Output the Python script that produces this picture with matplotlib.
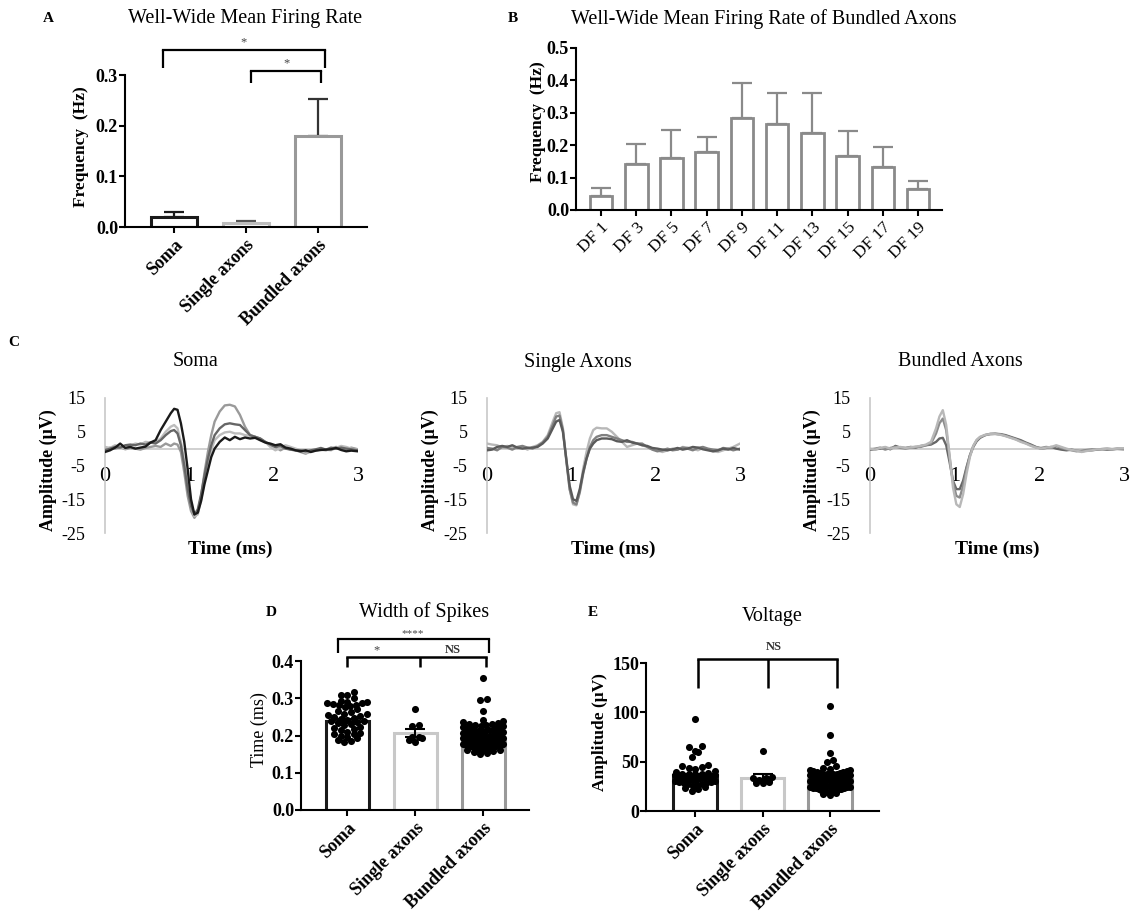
import matplotlib
matplotlib.use('Agg')
import matplotlib.pyplot as plt
import numpy as np

plt.rcParams['font.family'] = ['Liberation Serif', 'DejaVu Serif']

# ---------------- data ----------------
a_groups = ['Soma', 'Single axons', 'Bundled axons']
a_means = [0.020, 0.008, 0.180]
a_errs = [0.010, 0.004, 0.073]

b_days = ['DF 1', 'DF 3', 'DF 5', 'DF 7', 'DF 9', 'DF 11', 'DF 13', 'DF 15', 'DF 17', 'DF 19']
b_means = [0.043, 0.141, 0.160, 0.178, 0.284, 0.265, 0.237, 0.167, 0.134, 0.065]
b_errs = [0.024, 0.063, 0.087, 0.048, 0.108, 0.096, 0.124, 0.078, 0.060, 0.024]

t_ms = [0.0, 0.06, 0.12, 0.18, 0.24, 0.3, 0.36, 0.42, 0.48, 0.54, 0.6, 0.66, 0.72,
        0.78, 0.82, 0.86, 0.9, 0.94, 0.98, 1.02, 1.06, 1.1, 1.14, 1.18, 1.22, 1.26, 1.3,
        1.36, 1.42, 1.48, 1.54, 1.6, 1.66, 1.72, 1.78, 1.84, 1.9, 1.96,
        2.02, 2.08, 2.14, 2.2, 2.26, 2.32, 2.38, 2.44, 2.5, 2.56, 2.62, 2.68, 2.74, 2.8, 2.86, 2.92, 3.0]

soma_tr1 = [-1.0, -0.5, 0.3, 1.5, 0.2, 0.5, 0.0, 0.3, 0.6, 1.8, 2.5, 5.5, 8.0,
            10.5, 11.8, 11.5, 7.5, 2.0, -6.0, -15.0, -19.5, -19.0, -15.5, -10.5, -6.5, -2.5, 0.0,
            2.0, 3.3, 2.5, 3.5, 2.8, 3.3, 3.0, 3.2, 2.5, 1.8, 1.5,
            1.0, 1.3, 0.3, 0.0, -0.5, -0.8, -0.5, -1.0, -0.6, -0.4, -0.3, -0.2, 0.2, -0.4, -0.8, -0.6, -0.8]
soma_tr2 = [-0.5, 0.0, 0.5, 0.3, 1.0, 1.2, 1.0, 1.5, 1.2, 1.8, 1.5, 2.5, 4.0,
            5.2, 5.5, 4.5, 1.0, -5.0, -12.0, -17.0, -19.5, -18.0, -13.5, -8.0, -3.0, 1.0, 4.0,
            6.0, 7.2, 7.5, 7.2, 7.0, 5.5, 4.0, 3.5, 3.0, 2.0, 1.2,
            0.5, 0.8, 0.0, -0.3, -0.5, -0.5, -0.8, -0.5, -0.2, 0.2, -0.3, 0.3, 0.0, 0.3, 0.0, -0.2, -0.5]
soma_tr3 = [-0.3, 0.3, 0.0, 0.5, -0.2, 0.2, 0.0, -0.3, 0.2, 0.5, 0.8, 0.5, 1.5,
            0.8, 1.5, 1.2, -1.0, -7.0, -14.0, -18.5, -20.5, -19.0, -14.0, -7.0, -1.0, 4.0, 8.0,
            11.0, 12.8, 13.0, 12.5, 10.0, 6.5, 4.0, 3.5, 3.0, 2.0, 1.0,
            0.5, -0.5, 0.3, -0.3, -0.5, -1.0, -1.5, -0.8, -0.5, -0.3, -0.5, 0.0, 0.5, 0.2, -0.3, 0.3, -0.2]
soma_tr4 = [0.5, 0.2, 1.0, 0.5, 0.0, 0.8, 1.5, 1.2, 2.0, 1.8, 2.0, 3.0, 5.0,
            6.5, 7.0, 6.0, 2.0, -4.0, -11.0, -17.0, -20.0, -19.5, -15.0, -9.5, -4.5, -0.5, 2.5,
            4.0, 4.8, 5.0, 4.5, 4.5, 4.0, 3.8, 3.5, 2.5, 2.0, 0.5,
            -0.5, 0.2, 1.0, 0.5, 0.0, -0.5, -1.2, -1.0, -0.5, 0.0, -0.3, -0.5, 0.2, 0.8, 0.5, 0.0, -0.3]

single_tr1 = [-0.5, -0.3, 0.5, 0.8, 0.5, 1.0, 0.3, 0.0, 0.2, 0.3, 0.5, 1.5, 3.0,
              6.0, 8.0, 8.5, 5.0, -3.0, -11.0, -15.0, -15.5, -12.0, -7.0, -3.0, 0.0, 1.5, 2.5,
              3.0, 3.0, 2.8, 2.2, 2.0, 2.5, 1.8, 1.5, 1.0, 0.8, 0.2,
              0.0, -0.3, -0.5, -0.2, 0.2, -0.3, 0.0, 0.5, 0.3, -0.2, -0.5, -0.8, -0.5, 0.0, -0.3, 0.2, -0.3]
single_tr2 = [0.2, 0.0, -0.5, 0.5, 0.3, -0.3, 0.5, 0.8, 0.3, 0.0, 0.8, 1.8, 3.5,
              7.0, 9.5, 9.8, 5.5, -3.5, -12.0, -16.0, -16.5, -13.0, -7.5, -3.0, 0.5, 2.5, 3.5,
              4.0, 4.0, 3.5, 3.0, 2.5, 2.0, 2.0, 1.5, 1.5, 0.5, -0.3,
              -0.8, -0.5, 0.0, -0.5, -0.3, 0.3, 0.0, -0.5, 0.2, 0.5, 0.0, -0.3, -0.5, 0.2, 0.0, -0.5, 0.0]
single_tr3 = [1.5, 1.2, 1.0, 0.3, 0.8, 0.5, 0.0, 0.5, -0.3, 0.5, 1.0, 2.0, 4.0,
              8.0, 10.5, 10.8, 6.0, -3.0, -12.0, -16.5, -16.8, -12.5, -6.0, -1.0, 3.0, 5.5, 6.2,
              6.0, 6.0, 5.0, 3.5, 2.0, 0.5, 1.0, 1.5, 1.0, 0.5, 0.0,
              -0.5, -1.0, -0.5, 0.0, -0.3, 0.5, 0.3, 0.0, -0.5, 0.2, -0.3, -0.8, -1.0, -0.5, 0.0, 0.5, 1.5]

bundled_tr1 = [-0.3, -0.2, 0.0, 0.3, -0.2, 0.8, 0.3, 0.2, 0.5, 0.3, 0.8, 1.0, 1.2,
               2.0, 3.0, 3.2, 1.0, -4.0, -9.5, -12.0, -12.0, -9.5, -5.5, -2.0, 0.5, 2.2, 3.2,
               4.0, 4.3, 4.4, 4.3, 4.0, 3.5, 3.0, 2.5, 1.8, 1.2, 0.5,
               0.0, 0.2, 0.5, 0.0, -0.3, -0.5, -0.3, -0.6, -0.8, -0.6, -0.5, -0.3, -0.2, -0.3, -0.2, -0.1, -0.2]
bundled_tr2 = [-0.2, 0.0, 0.3, -0.3, 0.2, 0.5, 0.2, 0.0, 0.3, 0.5, 0.5, 1.0, 1.5,
               4.5, 7.5, 8.9, 5.5, -2.5, -10.0, -14.0, -14.5, -11.0, -6.0, -2.0, 0.8, 2.5, 3.4,
               4.0, 4.4, 4.4, 4.2, 3.8, 3.3, 2.8, 2.2, 1.6, 1.0, 0.4,
               0.2, 0.5, 0.3, 0.8, 0.2, -0.2, -0.5, -0.8, -0.6, -0.4, -0.2, -0.3, -0.1, 0.0, -0.2, 0.0, 0.0]
bundled_tr3 = [0.0, -0.3, 0.2, 0.5, 0.0, 0.3, 0.5, 0.2, 0.4, 0.6, 0.8, 1.2, 2.0,
               6.0, 9.5, 11.4, 7.0, -2.0, -11.5, -16.5, -17.3, -13.5, -7.5, -2.5, 0.8, 2.6, 3.5,
               4.1, 4.3, 4.3, 4.1, 3.7, 3.2, 2.7, 2.0, 1.5, 0.8, 0.3,
               0.0, 0.3, 0.5, 1.0, 0.5, 0.0, -0.4, -0.6, -1.0, -0.7, -0.5, -0.2, -0.2, 0.0, -0.1, 0.0, 0.1]

d_means = [0.240, 0.207, 0.190]
d_sems = [0.005, 0.011, 0.004]
d_soma = [0.316, 0.309, 0.308, 0.300, 0.292, 0.290, 0.289, 0.287, 0.286, 0.284, 0.283, 0.281,
          0.279, 0.276, 0.270, 0.266, 0.262, 0.259, 0.257, 0.255, 0.252, 0.249, 0.246, 0.244,
          0.242, 0.240, 0.238, 0.236, 0.233, 0.230, 0.227, 0.224, 0.221, 0.218, 0.214, 0.210,
          0.207, 0.205, 0.203, 0.200, 0.197, 0.193, 0.189, 0.185, 0.182]
d_single = [0.272, 0.228, 0.226, 0.197, 0.195, 0.192, 0.188, 0.183]
d_bundled = [0.355, 0.297, 0.296, 0.266, 0.242, 0.240, 0.236, 0.233, 0.232, 0.230, 0.229, 0.228,
             0.226, 0.225, 0.223, 0.221, 0.220, 0.219, 0.218, 0.216, 0.215, 0.214, 0.212, 0.211,
             0.210, 0.209, 0.208, 0.207, 0.206, 0.205, 0.205, 0.204, 0.203, 0.202, 0.201, 0.200,
             0.200, 0.199, 0.198, 0.197, 0.196, 0.195, 0.195, 0.194, 0.193, 0.192, 0.191, 0.190,
             0.190, 0.189, 0.188, 0.187, 0.186, 0.185, 0.185, 0.184, 0.183, 0.182, 0.181, 0.180,
             0.180, 0.179, 0.178, 0.177, 0.176, 0.175, 0.175, 0.174, 0.173, 0.172, 0.171, 0.170,
             0.169, 0.168, 0.167, 0.166, 0.165, 0.164, 0.163, 0.162, 0.161, 0.160, 0.158, 0.156,
             0.153, 0.150]

e_means = [36.0, 33.0, 32.0]
e_sems = [2.0, 4.0, 1.2]
e_soma = [93, 66, 65, 61, 60, 55, 47, 46, 45, 44, 43, 41, 40, 39, 38, 38, 37, 37, 36, 36, 35, 35,
          34, 34, 34, 33, 33, 32, 32, 31, 31, 30, 30, 29, 29, 28, 28, 27, 27, 26, 25, 24, 23, 22, 20]
e_single = [61, 34, 33, 33, 31, 29, 28, 28]
e_bundled = [106, 77, 59, 52, 50, 46, 44, 43, 42, 42, 41, 41, 40, 40, 39, 39, 38, 38, 37, 37, 37,
             36, 36, 36, 35, 35, 35, 34, 34, 34, 33, 33, 33, 32, 32, 32, 31, 31, 31, 30, 30, 30,
             29, 29, 29, 28, 28, 28, 27, 27, 27, 26, 26, 26, 25, 25, 25, 24, 24, 24, 23, 23, 23,
             22, 22, 22, 21, 21, 20, 20, 19, 19, 18, 17, 16]

# ---------------- layout helpers ----------------
W, H = 1132, 916
fig = plt.figure(figsize=(W / 100, H / 100), dpi=100)


def add_ax(l, t, r, b):
    return fig.add_axes([l / W, 1 - b / H, (r - l) / W, (b - t) / H])


def ftext(x, y, s, **kw):
    fig.text(x / W, 1 - y / H, s, **kw)


def style_bar_axes(ax):
    for s in ['top', 'right']:
        ax.spines[s].set_visible(False)
    for s in ['left', 'bottom']:
        ax.spines[s].set_linewidth(1.5)
    ax.tick_params(axis='both', width=1.5, length=4, direction='out')
    ax.tick_params(axis='y', pad=1)
    ax.tick_params(axis='x', pad=3)


def bracket(ax, xs, y_top, y_low, lw=1.6):
    for x in xs:
        ax.plot([x, x], [y_top, y_low], color='black', lw=lw, clip_on=False, solid_capstyle='butt')
    ax.plot([xs[0], xs[-1]], [y_top, y_top], color='black', lw=lw, clip_on=False, solid_capstyle='projecting')


def swarm_offsets(values, ypp, xpp, bin_px=6.0, dot_px=6.5, max_half_px=20.0):
    vals = np.asarray(values, dtype=float)
    keys = np.floor(vals / (bin_px * ypp)).astype(int)
    offs = np.zeros(len(vals))
    for k in np.unique(keys):
        idx = np.where(keys == k)[0]
        idx = idx[np.argsort(vals[idx])]
        n = len(idx)
        sp = dot_px if n <= 1 else min(dot_px, 2 * max_half_px / (n - 1))
        slots = []
        if n % 2 == 1:
            slots.append(0.0)
            j = 1
            while len(slots) < n:
                slots.append(-j)
                if len(slots) < n:
                    slots.append(j)
                j += 1
        else:
            j = 0.5
            while len(slots) < n:
                slots.append(-j)
                slots.append(j)
                j += 1
        for i, s in zip(idx, slots[:n]):
            offs[i] = s * sp * xpp
    return offs


# ---------------- Panel A ----------------
axA = add_ax(125, 75, 367, 227)
a_edge = ['#1a1a1a', '#bdbdbd', '#999999']
a_ecol = ['#1a1a1a', '#555555', '#333333']
for i in range(3):
    axA.errorbar(i, a_means[i], yerr=[[0], [a_errs[i]]], fmt='none', ecolor=a_ecol[i],
                 elinewidth=1.6, capsize=7, capthick=1.6, zorder=1)
    axA.bar(i, a_means[i], width=0.64, facecolor='white', edgecolor=a_edge[i], linewidth=2.2, zorder=2)
axA.set_xlim(-0.68, 2.68)
axA.set_ylim(0, 0.3)
style_bar_axes(axA)
axA.set_yticks([0.0, 0.1, 0.2, 0.3])
axA.set_yticklabels(['0.0', '0.1', '0.2', '0.3'], fontweight='bold', fontsize=13)
axA.set_xticks(range(3))
axA.set_xticklabels(a_groups, rotation=45, ha='right', rotation_mode='anchor', fontweight='bold', fontsize=13)
bracket(axA, [-0.15, 2.10], 0.349, 0.314)
bracket(axA, [1.07, 2.04], 0.308, 0.284)
axA.text(0.97, 0.352, '*', ha='center', va='bottom', fontsize=9, color='#444444')
axA.text(1.56, 0.311, '*', ha='center', va='bottom', fontsize=9, color='#444444')
ftext(48, 19, 'A', fontweight='bold', fontsize=11, ha='center', va='center')
ftext(245, 18, 'Well-Wide Mean Firing Rate', fontsize=14.5, ha='center', va='center')
ftext(81, 147, 'Frequency  (Hz)', rotation=90, fontweight='bold', fontsize=12.5, ha='center', va='center')

# ---------------- Panel B ----------------
axB = add_ax(576, 48, 942, 210)
for i in range(len(b_days)):
    axB.errorbar(i, b_means[i], yerr=[[0], [b_errs[i]]], fmt='none', ecolor='#8a8a8a',
                 elinewidth=1.6, capsize=7, capthick=1.6, zorder=1)
    axB.bar(i, b_means[i], width=0.64, facecolor='white', edgecolor='#8a8a8a', linewidth=2.0, zorder=2)
axB.set_xlim(-0.71, 9.68)
axB.set_ylim(0, 0.5)
style_bar_axes(axB)
axB.set_yticks([0.0, 0.1, 0.2, 0.3, 0.4, 0.5])
axB.set_yticklabels(['0.0', '0.1', '0.2', '0.3', '0.4', '0.5'], fontweight='bold', fontsize=13)
axB.set_xticks(range(len(b_days)))
axB.set_xticklabels(b_days, rotation=45, ha='right', rotation_mode='anchor', fontsize=12.5)
ftext(513, 18, 'B', fontweight='bold', fontsize=11, ha='center', va='center')
ftext(764, 19, 'Well-Wide Mean Firing Rate of Bundled Axons', fontsize=14.5, ha='center', va='center')
ftext(538, 122, 'Frequency  (Hz)', rotation=90, fontweight='bold', fontsize=12.5, ha='center', va='center')

# ---------------- Panel C ----------------
def wave_panel(l, r, traces, colors, title, title_x, ylab_x, xlab_x):
    ax = add_ax(l, 398, r, 533)
    for y, c in zip(traces, colors):
        ax.plot(t_ms, y, color=c, lw=1.7, zorder=3)
    ax.set_xlim(0, 3)
    ax.set_ylim(-25, 15)
    ax.axhline(0, color='#c8c8c8', lw=1.2, zorder=1)
    for s in ['top', 'right', 'bottom']:
        ax.spines[s].set_visible(False)
    ax.spines['left'].set_color('#c8c8c8')
    ax.spines['left'].set_linewidth(1.2)
    ax.set_xticks([])
    ax.set_yticks([15, 5, -5, -15, -25])
    ax.set_yticklabels(['15', '5', '-5', '-15', '-25'], fontsize=13)
    ax.tick_params(axis='y', length=0, pad=14)
    for xv in [0, 1, 2, 3]:
        ax.text(xv, -8.3, str(xv), ha='center', va='center', fontsize=16, zorder=2, clip_on=False)
    ftext(title_x, 362, title, fontsize=14.5, ha='center', va='center')
    ftext(ylab_x, 470, 'Amplitude (μV)', rotation=90, fontweight='bold', fontsize=13, ha='center', va='center')
    ftext(xlab_x, 549, 'Time (ms)', fontweight='bold', fontsize=14, ha='center', va='center')
    return ax


wave_panel(105, 358, [soma_tr3, soma_tr4, soma_tr2, soma_tr1],
           ['#9a9a9a', '#bdbdbd', '#666666', '#1a1a1a'], 'Soma', 196, 48, 230)
wave_panel(487, 740, [single_tr3, single_tr2, single_tr1],
           ['#b8b8b8', '#808080', '#5a5a5a'], 'Single Axons', 578, 430, 613)
wave_panel(870, 1124, [bundled_tr1, bundled_tr2, bundled_tr3],
           ['#666666', '#8c8c8c', '#b8b8b8'], 'Bundled Axons', 960, 812, 997)
ftext(14, 342, 'C', fontweight='bold', fontsize=11, ha='center', va='center')

# ---------------- Panel D / E ----------------
edge_cols = ['#1a1a1a', '#c8c8c8', '#999999']


def dot_panel(ax, groups, means, sems, ypp, xpp):
    for i, vals in enumerate(groups):
        ax.bar(i, means[i], width=0.64, facecolor='white', edgecolor=edge_cols[i], linewidth=2.2, zorder=1)
        offs = swarm_offsets(vals, ypp, xpp)
        ax.scatter(i + offs, vals, s=26, color='black', linewidths=0, zorder=3, clip_on=False)
        ax.errorbar(i, means[i], yerr=sems[i], fmt='none', ecolor='black', elinewidth=1.5,
                    capsize=7, capthick=1.5, zorder=4)
    style_bar_axes(ax)
    ax.set_xticks(range(3))
    ax.set_xticklabels(a_groups, rotation=45, ha='right', rotation_mode='anchor', fontweight='bold', fontsize=13)


axD = add_ax(301, 661, 529, 810)
axD.set_xlim(-0.684, 2.67)
axD.set_ylim(0, 0.4)
dot_panel(axD, [d_soma, d_single, d_bundled], d_means, d_sems, 0.4 / 149, 3.354 / 228)
axD.set_yticks([0.0, 0.1, 0.2, 0.3, 0.4])
axD.set_yticklabels(['0.0', '0.1', '0.2', '0.3', '0.4'], fontweight='bold', fontsize=13)
bracket(axD, [-0.14, 2.08], 0.459, 0.422)
bracket(axD, [0.0, 1.07, 2.04], 0.411, 0.384, lw=1.8)
axD.text(0.96, 0.462, '****', ha='center', va='bottom', fontsize=8, color='#444444')
axD.text(0.43, 0.412, '*', ha='center', va='bottom', fontsize=9, color='#444444')
axD.text(1.55, 0.413, 'NS', ha='center', va='bottom', fontsize=9, fontweight='bold', color='#333333')
ftext(271, 613, 'D', fontweight='bold', fontsize=11, ha='center', va='center')
ftext(424, 612, 'Width of Spikes', fontsize=14.5, ha='center', va='center')
ftext(259, 730, 'Time (ms)', rotation=90, fontsize=13, ha='center', va='center')

axE = add_ax(646, 663, 879, 811)
axE.set_xlim(-0.726, 2.726)
axE.set_ylim(0, 150)
dot_panel(axE, [e_soma, e_single, e_bundled], e_means, e_sems, 150 / 148, 3.452 / 233)
axE.set_yticks([0, 50, 100, 150])
axE.set_yticklabels(['0', '50', '100', '150'], fontweight='bold', fontsize=13)
bracket(axE, [0.04, 1.08, 2.10], 154, 124.7, lw=1.8)
axE.text(1.16, 160, 'NS', ha='center', va='bottom', fontsize=9, fontweight='bold', color='#333333')
ftext(593, 613, 'E', fontweight='bold', fontsize=11, ha='center', va='center')
ftext(772, 617, 'Voltage', fontsize=14.5, ha='center', va='center')
ftext(600, 732, 'Amplitude (μV)', rotation=90, fontweight='bold', fontsize=12.5, ha='center', va='center')

fig.savefig('out.png', dpi=100)
